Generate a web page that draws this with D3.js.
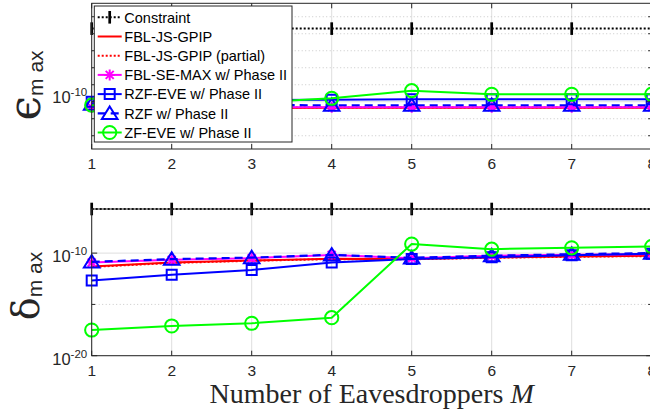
<!DOCTYPE html>
<html>
<head>
<meta charset="utf-8">
<script src="https://cdn.jsdelivr.net/npm/d3@7"></script>
<style>
  body { margin: 0; background: #fff; }
  svg { display: block; }
</style>
</head>
<body>
<svg id="chart" width="650" height="414"></svg>
<script>
// ---- data -------------------------------------------------------------
const eavesdroppers = [1, 2, 3, 4, 5, 6, 7, 8];

const seriesNames = [
  "Constraint",
  "FBL-JS-GPIP",
  "FBL-JS-GPIP (partial)",
  "FBL-SE-MAX w/ Phase II",
  "RZF-EVE w/ Phase II",
  "RZF w/ Phase II",
  "ZF-EVE w/ Phase II"
];

// maximum leakage epsilon_max
const epsConstraint = [2e-6, 2e-6, 2e-6, 2e-6, 2e-6, 2e-6, 2e-6, 2e-6];
const epsFblJs      = [4.2e-11, 4.3e-11, 4.3e-11, 4.4e-11, 4.4e-11, 4.4e-11, 4.5e-11, 4.5e-11];
const epsFblJsPart  = [4.4e-11, 4.5e-11, 4.5e-11, 4.6e-11, 4.6e-11, 4.6e-11, 4.6e-11, 4.7e-11];
const epsFblSeMax   = [4.6e-11, 4.7e-11, 4.7e-11, 4.7e-11, 4.8e-11, 4.8e-11, 4.8e-11, 4.8e-11];
const epsRzfEve     = [1.0e-10, 1.15e-10, 1.25e-10, 1.33e-10, 1.38e-10, 1.38e-10, 1.38e-10, 1.38e-10];
const epsRzf        = [7.2e-11, 6.4e-11, 6.3e-11, 6.2e-11, 6.2e-11, 6.2e-11, 6.2e-11, 6.2e-11];
const epsZfEve      = [6.3e-11, 7.1e-11, 8.9e-11, 1.6e-10, 4.5e-10, 2.75e-10, 2.75e-10, 2.75e-10];

// maximum detection error delta_max
const delConstraint = [2e-6, 2e-6, 2e-6, 2e-6, 2e-6, 2e-6, 2e-6, 2e-6];
const delFblJs      = [5.0e-12, 1.2e-11, 1.9e-11, 2.75e-11, 2.6e-11, 3.7e-11, 4.7e-11, 5.5e-11];
const delFblJsPart  = [4.5e-12, 1.1e-11, 1.8e-11, 2.6e-11, 2.5e-11, 3.5e-11, 4.4e-11, 5.2e-11];
const delFblSeMax   = [1.2e-11, 2.2e-11, 3.2e-11, 6.7e-11, 3.2e-11, 5.5e-11, 7.0e-11, 8.0e-11];
const delRzfEve     = [2.1e-13, 7.6e-13, 2.3e-12, 1.2e-11, 2.6e-11, 4.0e-11, 6.3e-11, 8.9e-11];
const delRzf        = [1.4e-11, 2.6e-11, 3.7e-11, 6.8e-11, 3.5e-11, 5.6e-11, 7.9e-11, 1.0e-10];
const delZfEve      = [3.2e-18, 7.9e-18, 1.45e-17, 5.1e-17, 7.6e-10, 2.45e-10, 3.3e-10, 4.4e-10];

// axis ticks
const xTickLabels = ["1", "2", "3", "4", "5", "6", "7", "8"];
const epsMajorTicks = [1e-10];
const epsTickLabels = [["10", "-10"]];
const epsMinorTicks = [1e-12, 1e-11, 1e-9, 1e-8, 1e-7, 1e-6, 1e-5];
const delMajorTicks = [1e-20, 1e-10];
const delTickLabels = [["10", "-20"], ["10", "-10"]];
const delMinorTicks = [1e-15];

// ---- styles -----------------------------------------------------------
const styles = [
  { color: "#000000", width: 2,   dash: "2,2", marker: "bar" },
  { color: "#ff0000", width: 2,   dash: null,  marker: null },
  { color: "#ff0000", width: 2,   dash: "2,2", marker: null },
  { color: "#ff00ff", width: 2,   dash: null,  marker: "star" },
  { color: "#0000ff", width: 2,   dash: null,  marker: "square" },
  { color: "#0000ff", width: 2.2, dash: "8,5", marker: "triangle" },
  { color: "#00ff00", width: 2,   dash: null,  marker: "circle" }
];

const markerPaths = {
  bar: "M0,-6.3V6.3",
  star: "M-5.5,0H5.5M0,-5.5V5.5M-4,-4L4,4M-4,4L4,-4",
  square: "M-5,-5H5V5H-5Z",
  triangle: "M0,-6.8L7.8,5.6L-7.8,5.6Z",
  circle: d3.arc()({ innerRadius: 0, outerRadius: 6.6, startAngle: 0, endAngle: 2 * Math.PI })
};

const axisColor = "#262626";
const svg = d3.select("#chart");

const x = d3.scaleLinear().domain([1, 8]).range([91.7, 651.7]);

function drawMarker(g, type, cx, cy, st) {
  g.append("path")
    .attr("d", markerPaths[type])
    .attr("transform", `translate(${cx},${cy})`)
    .attr("fill", "none")
    .attr("stroke", st.color)
    .attr("stroke-width", type === "bar" ? 2.7 : 2)
    .attr("stroke-linejoin", "miter");
}

function drawPanel(opts) {
  const { top, bottom, y, seriesData, majorTicks, tickLabels, minorTicks, labelShift } = opts;
  const left = x.range()[0], right = x.range()[1];
  const g = svg.append("g");

  g.append("rect").attr("x", left).attr("y", top)
    .attr("width", right - left).attr("height", bottom - top).attr("fill", "#fff");

  // grid
  g.selectAll(".vgrid").data(eavesdroppers).enter().append("line")
    .attr("x1", d => x(d)).attr("x2", d => x(d))
    .attr("y1", top).attr("y2", bottom)
    .attr("stroke", "#dedede").attr("stroke-width", 1);
  g.selectAll(".hgridMinor").data(minorTicks).enter().append("line")
    .attr("x1", left).attr("x2", right)
    .attr("y1", d => y(d)).attr("y2", d => y(d))
    .attr("stroke", "#c8c8c8").attr("stroke-width", 1).attr("stroke-dasharray", "1,2.5");
  g.selectAll(".hgridMajor").data(majorTicks).enter().append("line")
    .attr("x1", left).attr("x2", right)
    .attr("y1", d => y(d)).attr("y2", d => y(d))
    .attr("stroke", "#dedede").attr("stroke-width", 1);

  // series
  const line = d3.line().x((d, i) => x(eavesdroppers[i])).y(d => y(d));
  seriesData.forEach((vals, k) => {
    const st = styles[k];
    g.append("path").datum(vals)
      .attr("d", line)
      .attr("fill", "none")
      .attr("stroke", st.color)
      .attr("stroke-width", st.width)
      .attr("stroke-dasharray", st.dash)
      .attr("stroke-linejoin", "round");
    if (st.marker) {
      vals.forEach((v, i) => drawMarker(g, st.marker, x(eavesdroppers[i]), y(v), st));
    }
  });

  // axes box and ticks
  const ax = g.append("g").attr("stroke", axisColor).attr("stroke-width", 1).attr("fill", "none");
  ax.append("rect").attr("x", left).attr("y", top).attr("width", right - left).attr("height", bottom - top);
  eavesdroppers.forEach(d => {
    ax.append("line").attr("x1", x(d)).attr("x2", x(d)).attr("y1", bottom).attr("y2", bottom - 5);
    ax.append("line").attr("x1", x(d)).attr("x2", x(d)).attr("y1", top).attr("y2", top + 5);
  });
  majorTicks.forEach(d => {
    ax.append("line").attr("x1", left).attr("x2", left + 5.5).attr("y1", y(d)).attr("y2", y(d));
    ax.append("line").attr("x1", right).attr("x2", right - 5.5).attr("y1", y(d)).attr("y2", y(d));
  });
  minorTicks.forEach(d => {
    ax.append("line").attr("x1", left).attr("x2", left + 3.5).attr("y1", y(d)).attr("y2", y(d));
    ax.append("line").attr("x1", right).attr("x2", right - 3.5).attr("y1", y(d)).attr("y2", y(d));
  });

  // x tick labels
  g.selectAll(".xtl").data(xTickLabels).enter().append("text")
    .attr("x", (d, i) => x(eavesdroppers[i]))
    .attr("y", bottom + 20)
    .attr("text-anchor", "middle")
    .attr("font-family", "Liberation Sans, Arial, sans-serif")
    .attr("font-size", 15.5)
    .attr("fill", axisColor)
    .text(d => d);

  // y tick labels (power of ten)
  majorTicks.forEach((d, i) => {
    const t = g.append("text")
      .attr("x", left - 4.5)
      .attr("y", y(d) + labelShift)
      .attr("text-anchor", "end")
      .attr("font-family", "Liberation Sans, Arial, sans-serif")
      .attr("fill", axisColor);
    t.append("tspan").attr("font-size", 16.5).text(tickLabels[i][0]);
    t.append("tspan").attr("font-size", 11.5).attr("dy", -7).text(tickLabels[i][1]);
  });
  return g;
}

// ---- top panel: epsilon_max -------------------------------------------
const yEps = d3.scaleLog().domain([1.66e-13, 6.17e-5]).range([149, 3.3]);
drawPanel({
  top: 3.3, bottom: 149, y: yEps,
  seriesData: [epsConstraint, epsFblJs, epsFblJsPart, epsFblSeMax, epsRzfEve, epsRzf, epsZfEve],
  majorTicks: epsMajorTicks, tickLabels: epsTickLabels, minorTicks: epsMinorTicks,
  labelShift: 1
});

// ---- bottom panel: delta_max ------------------------------------------
const yDel = d3.scaleLog().domain([1e-20, 2e-6]).range([355.7, 209]);
drawPanel({
  top: 209, bottom: 355.7, y: yDel,
  seriesData: [delConstraint, delFblJs, delFblJsPart, delFblSeMax, delRzfEve, delRzf, delZfEve],
  majorTicks: delMajorTicks, tickLabels: delTickLabels, minorTicks: delMinorTicks,
  labelShift: 9
});

// ---- legend -----------------------------------------------------------
const legend = svg.append("g");
legend.append("rect").attr("x", 94.3).attr("y", 6).attr("width", 197.7).attr("height", 136)
  .attr("fill", "#fff").attr("stroke", axisColor).attr("stroke-width", 1);
seriesNames.forEach((name, k) => {
  const st = styles[k];
  const ry = 17.3 + k * 19.2;
  legend.append("line").attr("x1", 97.7).attr("x2", 121.7).attr("y1", ry).attr("y2", ry)
    .attr("stroke", st.color).attr("stroke-width", st.width).attr("stroke-dasharray", st.dash);
  if (st.marker) drawMarker(legend, st.marker, 109.7, ry, st);
  legend.append("text").attr("x", 124.3).attr("y", ry + 5.2)
    .attr("font-family", "Liberation Sans, Arial, sans-serif")
    .attr("font-size", 14.5).attr("fill", "#000").text(name);
});

// ---- axis titles ------------------------------------------------------
function yTitle(cx, cy, greek, greekSize, subSize) {
  const t = svg.append("text")
    .attr("transform", `translate(${cx},${cy}) rotate(-90)`)
    .attr("text-anchor", "middle")
    .attr("fill", axisColor);
  t.append("tspan").attr("font-family", "DejaVu Serif, serif").attr("font-size", greekSize).text(greek);
  t.append("tspan").attr("font-family", "Liberation Sans, Arial, sans-serif")
    .attr("font-size", subSize).attr("dy", 3).text("m ax");
}
yTitle(40, 85.5, "\u03F5", 44, 21);
yTitle(39, 286, "\u03B4", 38, 21);

const xt = svg.append("text")
  .attr("x", (x.range()[0] + x.range()[1]) / 2)
  .attr("y", 402.5)
  .attr("text-anchor", "middle")
  .attr("font-family", "Liberation Serif, Times New Roman, serif")
  .attr("font-size", 28)
  .attr("fill", axisColor);
xt.append("tspan").text("Number of Eavesdroppers ");
xt.append("tspan").attr("font-style", "italic").text("M");
</script>
</body>
</html>
